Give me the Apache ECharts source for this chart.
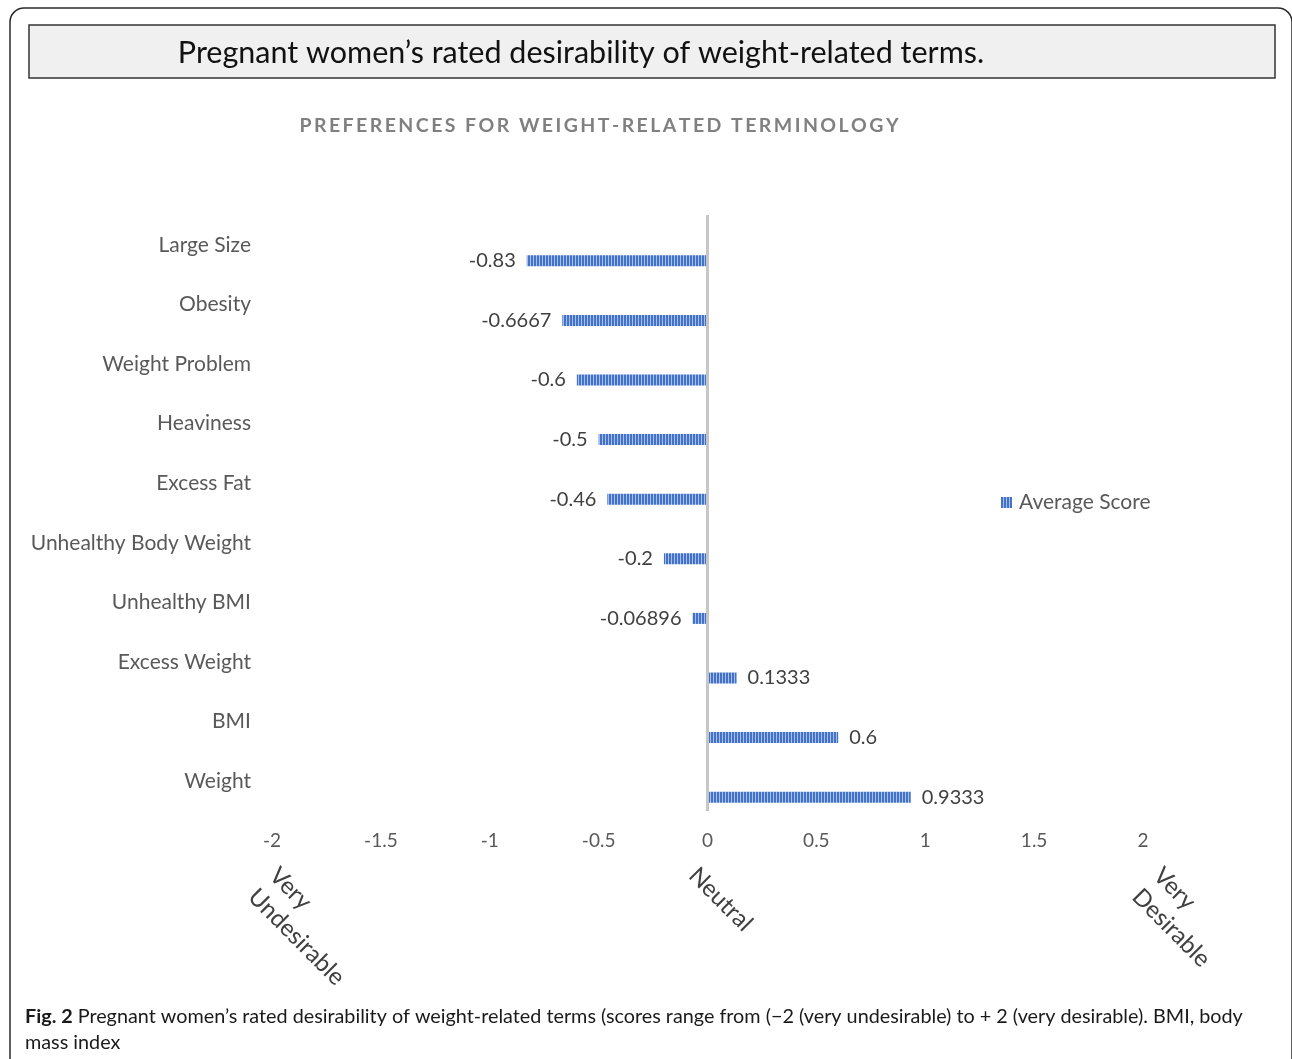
<!DOCTYPE html>
<html>
<head>
<meta charset="utf-8">
<title>Preferences for weight-related terminology</title>
<script src="https://cdn.jsdelivr.net/npm/echarts@6/dist/echarts.min.js"></script>
<style>
  html, body { margin: 0; padding: 0; background: #ffffff; }
  #chart { width: 1292px; height: 1059px; }
</style>
</head>
<body>
<div id="chart"></div>
<script>
// Terms, top to bottom, and their average desirability scores (-2 .. +2)
const categories = ['Large Size', 'Obesity', 'Weight Problem', 'Heaviness', 'Excess Fat',
  'Unhealthy Body Weight', 'Unhealthy BMI', 'Excess Weight', 'BMI', 'Weight'];
const averageScores = [-0.83, -0.6667, -0.6, -0.5, -0.46, -0.2, -0.06896, 0.1333, 0.6, 0.9333];
const valueLabels = ['-0.83', '-0.6667', '-0.6', '-0.5', '-0.46', '-0.2', '-0.06896', '0.1333', '0.6', '0.9333'];
const seriesName = 'Average Score';
const axisMin = -2, axisMax = 2, axisStep = 0.5;
const scaleValues = [-2, 0, 2];
const scaleTexts = ['Very\nUndesirable', 'Neutral', 'Very\nDesirable'];
const heading = 'Pregnant women\u2019s rated desirability of weight-related terms.';
const subheading = 'PREFERENCES FOR WEIGHT-RELATED TERMINOLOGY';
const captionLine1 = ' Pregnant women\u2019s rated desirability of weight-related terms (scores range from (\u22122 (very undesirable) to + 2 (very desirable). BMI, body';
const captionLine2 = 'mass index';

const FONT = 'Lato, "Open Sans", sans-serif';

// Vertical-stripe fill used for the bars
function stripePattern() {
  const c = document.createElement('canvas');
  c.width = 3; c.height = 4;
  const ctx = c.getContext('2d');
  ctx.fillStyle = '#4472c4';
  ctx.fillRect(0, 0, 3, 4);
  ctx.fillStyle = '#a7bff0';
  ctx.fillRect(2, 0, 1, 4);
  return c;
}
const barFill = { image: stripePattern(), repeat: 'repeat' };

// spread the capitals out
const spaced = subheading.split('').join('\u2009');

const chart = echarts.init(document.getElementById('chart'), null, { renderer: 'canvas' });

const barData = averageScores.map((v, i) => ({
  value: v,
  label: {
    position: v < 0 ? 'left' : 'right',
    formatter: valueLabels[i]
  }
}));

const option = {
  backgroundColor: '#ffffff',
  animation: false,
  grid: { left: 272, right: 149, top: 215, bottom: 248, containLabel: false },
  legend: {
    data: [seriesName],
    left: 996, top: 487,
    itemWidth: 11, itemHeight: 11,
    icon: 'rect',
    textStyle: { fontFamily: FONT, fontSize: 21, color: '#595959', padding: [0, 0, 0, 2] }
  },
  xAxis: {
    type: 'value',
    min: axisMin, max: axisMax, interval: axisStep,
    axisLine: { show: false },
    axisTick: { show: false },
    splitLine: { show: false },
    axisLabel: { fontFamily: FONT, fontSize: 19, color: '#595959', margin: 20 }
  },
  yAxis: {
    type: 'category',
    inverse: true,
    data: categories,
    axisLine: { show: false, onZero: false },
    axisTick: { show: false },
    splitLine: { show: false },
    axisLabel: { fontFamily: FONT, fontSize: 21, color: '#595959', margin: 21 }
  },
  series: [
    {
      // empty slot so each bar sits in the lower half of its row
      name: 'slot',
      type: 'bar',
      data: categories.map(() => '-'),
      barWidth: 11,
      barGap: '191%',
      silent: true
    },
    {
      name: seriesName,
      type: 'bar',
      data: barData,
      barWidth: 11,
      barGap: '191%',
      itemStyle: { color: barFill },
      label: {
        show: true,
        distance: 11,
        fontFamily: FONT, fontSize: 20, color: '#404040'
      },
      markLine: {
        silent: true,
        symbol: 'none',
        label: { show: false },
        lineStyle: { color: '#c6c6c6', width: 3, type: 'solid' },
        data: [{ xAxis: 0 }]
      }
    }
  ]
};
chart.setOption(option);

// rotated scale notes under the axis, anchored on their tick values
const noteShift = [32, 16, 45];
const notes = scaleValues.map((v, i) => ({
  type: 'text',
  x: chart.convertToPixel({ xAxisIndex: 0 }, v) - 20 + noteShift[i],
  y: 861,
  rotation: -Math.PI / 4,
  style: {
    text: scaleTexts[i],
    fontFamily: FONT, fontSize: 24, fill: '#404040',
    align: 'left', verticalAlign: 'top', lineHeight: 30
  },
  z: 10
}));

// frame, heading box, subheading and figure caption
chart.setOption({
  graphic: [
    {
      type: 'rect',
      shape: { x: 10, y: 8, width: 1282, height: 1100, r: 14 },
      style: { fill: 'none', stroke: '#2b2b2b', lineWidth: 1.5 },
      silent: true, z: 1
    },
    {
      type: 'rect',
      shape: { x: 29, y: 25, width: 1246, height: 53 },
      style: { fill: '#f0f0f0', stroke: '#333333', lineWidth: 1.5 },
      silent: true, z: 1
    },
    {
      type: 'text',
      x: 581, y: 53,
      style: {
        text: heading, fontFamily: FONT, fontSize: 30.5, fill: '#111111',
        align: 'center', verticalAlign: 'middle'
      },
      z: 2
    },
    {
      type: 'text',
      x: 599, y: 126,
      style: {
        text: spaced, fontFamily: FONT, fontSize: 19.5, fontWeight: 'bold', fill: '#808080',
        align: 'center', verticalAlign: 'middle'
      },
      z: 2
    },
    ...notes,
    {
      type: 'text',
      x: 25, y: 1004,
      style: {
        text: '{b|Fig. 2}{n|' + captionLine1 + '}\n{n|' + captionLine2 + '}',
        rich: {
          b: { fontFamily: FONT, fontSize: 19.8, fontWeight: 'bold', fill: '#1a1a1a', lineHeight: 26 },
          n: { fontFamily: FONT, fontSize: 19.8, fill: '#1a1a1a', lineHeight: 26 }
        },
        align: 'left', verticalAlign: 'top'
      },
      z: 2
    }
  ]
});
</script>
</body>
</html>
